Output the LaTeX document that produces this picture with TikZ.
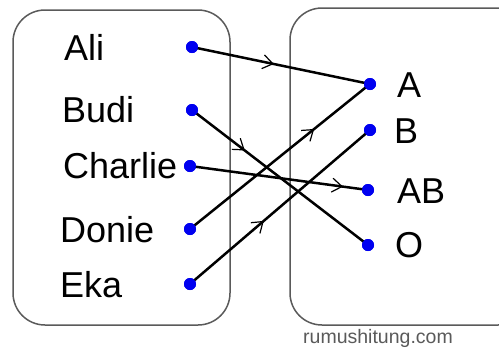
\documentclass[tikz,border=0pt]{standalone}
\usepackage{fontspec}
\setmainfont{Liberation Sans}
\usetikzlibrary{decorations.markings,arrows.meta}
\definecolor{boxgray}{RGB}{90,90,90}
\definecolor{dotblue}{RGB}{0,0,240}
\tikzset{
  setbox/.style={draw=boxgray, line width=1.5pt, rounded corners=32pt},
  lbl/.style={anchor=base west, inner sep=0pt, font=\fontsize{36}{42}\selectfont},
  dot/.style={circle, fill=dotblue, inner sep=0pt, minimum size=12pt},
  conn/.style={line width=2.5pt},
  midarrow/.style={postaction={decorate}, decoration={markings,
     mark=at position #1 with {\arrow[line width=1.2pt]{Straight Barb[length=10pt,width=14pt]}}}}
}
\begin{document}
\begin{tikzpicture}[x=1pt,y=-1pt]
\useasboundingbox (0,0) rectangle (499,349);
\fill[white] (0,0) rectangle (499,349);
% boxes
\draw[setbox] (13,10) rectangle (230,325);
\draw[setbox] (290,8) rectangle (530,325);
% labels
\node[lbl] (tAli) at (64,60) {Ali};
\node[lbl] (tBudi) at (62,122) {Budi};
\node[lbl] (tCharlie) at (63,178) {Charlie};
\node[lbl] (tDonie) at (60,242) {Donie};
\node[lbl] (tEka) at (60,297) {Eka};
\node[lbl] (tA) at (397,97) {A};
\node[lbl] (tB) at (394,143) {B};
\node[lbl] (tAB) at (397,203) {AB};
\node[lbl] (tO) at (395,257) {O};
% dots
\node[dot] (ali) at (192,47) {};
\node[dot] (budi) at (192,110) {};
\node[dot] (charlie) at (190,166) {};
\node[dot] (donie) at (190,229) {};
\node[dot] (eka) at (190,284) {};
\node[dot] (a) at (370,84) {};
\node[dot] (b) at (370,130) {};
\node[dot] (ab) at (368,190) {};
\node[dot] (o) at (368,245) {};
% connectors
\draw[conn, midarrow=0.46] (ali.center) -- (a.center);
\draw[conn, midarrow=0.30] (budi.center) -- (o.center);
\draw[conn, midarrow=0.86] (charlie.center) -- (ab.center);
\draw[conn, midarrow=0.69] (donie.center) -- (a.center);
\draw[conn, midarrow=0.41] (eka.center) -- (b.center);
% redraw dots on top
\foreach \n in {ali,budi,charlie,donie,eka,a,b,ab,o}{\fill[dotblue] (\n) circle (6pt);}
% credit
\node[anchor=base, inner sep=0pt, text=boxgray, font=\fontsize{19.5}{22}\selectfont] (credit) at (378,343) {rumushitung.com};
\end{tikzpicture}
\end{document}
